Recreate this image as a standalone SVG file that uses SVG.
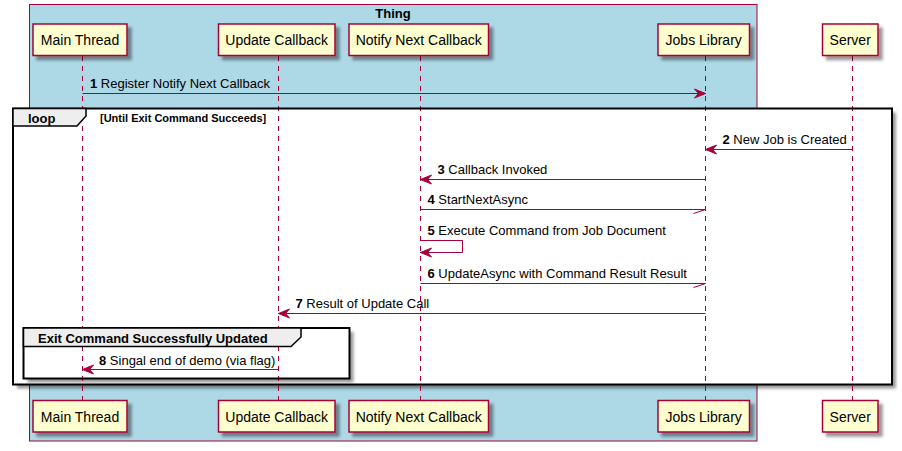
<svg xmlns="http://www.w3.org/2000/svg" width="902" height="451" viewBox="0 0 902 451">
<defs>
<filter id="sh" x="-10%" y="-10%" width="130%" height="140%">
<feGaussianBlur in="SourceAlpha" stdDeviation="1.8"/>
<feOffset dx="4" dy="4" result="b"/>
<feColorMatrix in="b" type="matrix" values="0 0 0 0 0  0 0 0 0 0  0 0 0 0 0  0 0 0 0.4 0"/>
<feMerge><feMergeNode/><feMergeNode in="SourceGraphic"/></feMerge>
</filter>
<marker id="ah" viewBox="0 0 11 9" refX="11" refY="4.5" markerWidth="11" markerHeight="9" markerUnits="userSpaceOnUse" orient="auto" overflow="visible">
<polygon points="0,0 11,4.5 0,9 4,4.5" fill="#A80036" stroke="#A80036" stroke-width="1" stroke-linejoin="miter"/>
</marker>
</defs>
<style>
.part rect{fill:#FEFECE;stroke:#A80036;stroke-width:1.5;filter:url(#sh)}
.part text{font-family:"Liberation Sans",Arial,sans-serif;font-size:14px;fill:#000;text-anchor:middle}
.life{stroke:#A80036;stroke-width:1;stroke-dasharray:5,5;fill:none}
.msg{stroke:#A80036;stroke-width:1;fill:none}
.lbl{font-family:"Liberation Sans",Arial,sans-serif;font-size:13px;fill:#000}
.b{font-weight:bold}
.frame{fill:none;stroke:#000;stroke-width:2}
.tab{fill:#EEEEEE;stroke:#000;stroke-width:1.5}
.gt{font-family:"Liberation Sans",Arial,sans-serif;font-size:13px;font-weight:bold;fill:#000}
.cond{font-family:"Liberation Sans",Arial,sans-serif;font-size:11px;font-weight:bold;fill:#000}
</style>
<rect width="902" height="451" fill="#FFFFFF"/>
<g id="box-thing">
<rect x="29.5" y="4.5" width="727.5" height="436.5" fill="#ADD8E6" stroke="#A80036" stroke-width="1"/>
<text x="393" y="17.5" class="gt" text-anchor="middle">Thing</text>
</g>
<g id="group-backgrounds">
<rect x="13" y="108.5" width="879" height="276" fill="#FFFFFF" filter="url(#sh)"/>
<rect x="23.5" y="328" width="326" height="50.5" fill="#FFFFFF" filter="url(#sh)"/>
</g>
<g id="lifelines">
<line class="life" x1="82.5" y1="56" x2="82.5" y2="400"/>
<line class="life" x1="278.5" y1="56" x2="278.5" y2="400"/>
<line class="life" x1="420.5" y1="56" x2="420.5" y2="400"/>
<line class="life" x1="705.5" y1="56" x2="705.5" y2="400"/>
<line class="life" x1="852.5" y1="56" x2="852.5" y2="400"/>
</g>
<g id="groups">
<rect class="frame" x="13" y="108.5" width="879" height="276"/>
<polygon class="tab" points="13,108.5 86,108.5 86,116 77,126 13,126"/>
<text x="28" y="122.5" class="gt">loop</text>
<text x="100" y="121.5" class="cond">[Until Exit Command Succeeds]</text>
<rect class="frame" x="23.5" y="328" width="326" height="50.5"/>
<polygon class="tab" points="23.5,328 301,328 301,337 291,346.5 23.5,346.5"/>
<text x="38" y="342.5" class="gt">Exit Command Successfully Updated</text>
</g>
<g id="connectors">
<line class="msg" x1="82.5" y1="93.5" x2="705.5" y2="93.5" marker-end="url(#ah)"/>
<text x="90" y="87.5" class="lbl"><tspan class="b">1</tspan> Register Notify Next Callback</text>
<line class="msg" x1="852.5" y1="149.5" x2="705.5" y2="149.5" marker-end="url(#ah)"/>
<text x="722.5" y="144" class="lbl"><tspan class="b">2</tspan> New Job is Created</text>
<line class="msg" x1="705.5" y1="179.5" x2="420.5" y2="179.5" marker-end="url(#ah)"/>
<text x="437.5" y="174" class="lbl"><tspan class="b">3</tspan> Callback Invoked</text>
<line class="msg" x1="420.5" y1="209.5" x2="705.5" y2="209.5"/>
<line class="msg" x1="705.5" y1="209.5" x2="693.5" y2="213.5"/>
<text x="427.5" y="204" class="lbl"><tspan class="b">4</tspan> StartNextAsync</text>
<polyline class="msg" points="420.5,240.5 462.5,240.5 462.5,252.5 420.5,252.5" marker-end="url(#ah)"/>
<text x="427.5" y="234.5" class="lbl"><tspan class="b">5</tspan> Execute Command from Job Document</text>
<line class="msg" x1="420.5" y1="283.5" x2="705.5" y2="283.5"/>
<line class="msg" x1="705.5" y1="283.5" x2="693.5" y2="287.5"/>
<text x="427.5" y="278" class="lbl"><tspan class="b">6</tspan> UpdateAsync with Command Result Result</text>
<line class="msg" x1="705.5" y1="313.5" x2="278.5" y2="313.5" marker-end="url(#ah)"/>
<text x="295.5" y="308" class="lbl"><tspan class="b">7</tspan> Result of Update Call</text>
<line class="msg" x1="278.5" y1="369.5" x2="82.5" y2="369.5" marker-end="url(#ah)"/>
<text x="99" y="364.5" class="lbl"><tspan class="b">8</tspan> Singal end of demo (via flag)</text>
</g>
<g id="main-thread" class="part">
<rect x="33" y="24" width="94" height="31.5"/>
<text x="80" y="45">Main Thread</text>
<rect x="33" y="400.5" width="94" height="31.5"/>
<text x="80" y="421.5">Main Thread</text>
</g>
<g id="update-callback" class="part">
<rect x="218.5" y="24" width="116.5" height="31.5"/>
<text x="276.7" y="45">Update Callback</text>
<rect x="218.5" y="400.5" width="116.5" height="31.5"/>
<text x="276.7" y="421.5">Update Callback</text>
</g>
<g id="notify-next-callback" class="part">
<rect x="349" y="24" width="139.5" height="31.5"/>
<text x="418.7" y="45">Notify Next Callback</text>
<rect x="349" y="400.5" width="139.5" height="31.5"/>
<text x="418.7" y="421.5">Notify Next Callback</text>
</g>
<g id="jobs-library" class="part">
<rect x="658" y="24" width="91.5" height="31.5"/>
<text x="703.7" y="45">Jobs Library</text>
<rect x="658" y="400.5" width="91.5" height="31.5"/>
<text x="703.7" y="421.5">Jobs Library</text>
</g>
<g id="server" class="part">
<rect x="822.5" y="24" width="55.5" height="31.5"/>
<text x="850.2" y="45">Server</text>
<rect x="822.5" y="400.5" width="55.5" height="31.5"/>
<text x="850.2" y="421.5">Server</text>
</g>
</svg>
